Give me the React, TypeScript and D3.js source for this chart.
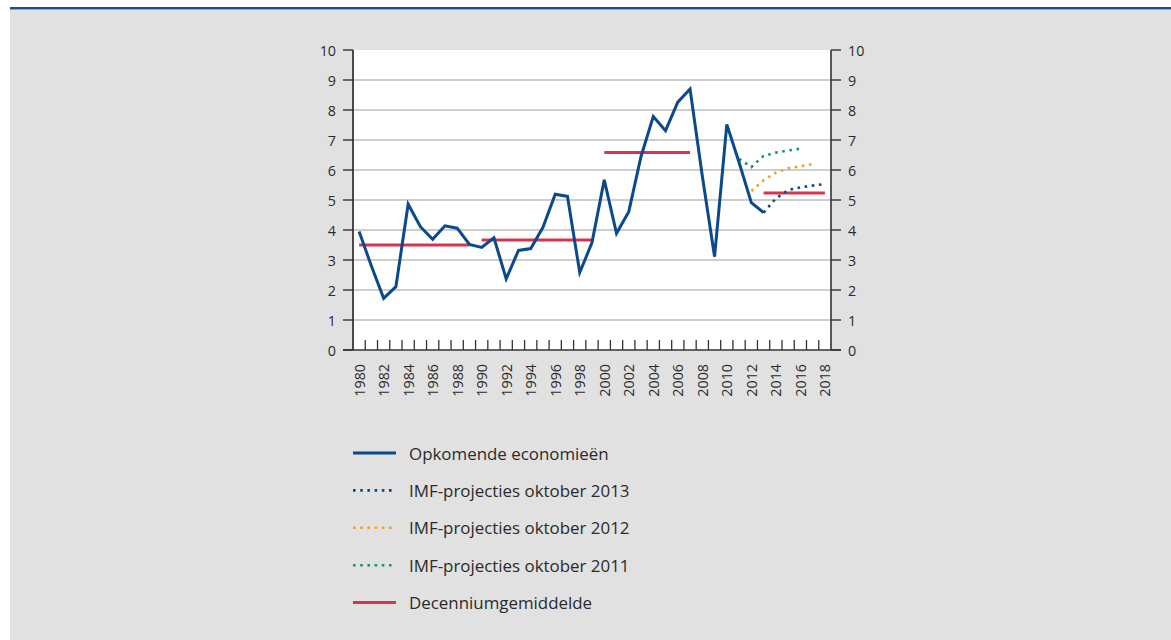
import React from "react";
import * as d3 from "d3";

const years = d3.range(1980, 2019);
const yTicks = [0, 1, 2, 3, 4, 5, 6, 7, 8, 9, 10];

// Opkomende economieën, 1980-2013
const actualYears = d3.range(1980, 2014);
const actual = [
  3.95, 2.8, 1.72, 2.11, 4.86, 4.11, 3.69, 4.14, 4.06, 3.52,
  3.42, 3.74, 2.37, 3.32, 3.38, 4.09, 5.19, 5.12, 2.58, 3.58,
  5.67, 3.89, 4.61, 6.45, 7.78, 7.31, 8.26, 8.7, 5.8, 3.11,
  7.52, 6.25, 4.91, 4.58,
];

const imf2013Years = [2013, 2014, 2015, 2016, 2017, 2018];
const imf2013 = [4.58, 5.05, 5.33, 5.42, 5.48, 5.53];

const imf2012Years = [2012, 2013, 2014, 2015, 2016, 2017];
const imf2012 = [5.3, 5.66, 5.91, 6.06, 6.12, 6.2];

const imf2011Years = [2011, 2012, 2013, 2014, 2015, 2016];
const imf2011 = [6.37, 6.1, 6.47, 6.58, 6.65, 6.71];

// decade averages: [from, to, value]
const decadeAvg: [number, number, number][] = [
  [1980, 1989, 3.5],
  [1990, 1999, 3.67],
  [2000, 2007, 6.58],
  [2013, 2018, 5.23],
];

const legendLabels = [
  "Opkomende economieën",
  "IMF-projecties oktober 2013",
  "IMF-projecties oktober 2012",
  "IMF-projecties oktober 2011",
  "Decenniumgemiddelde",
];

const BLUE = "#0a4a8c";
const RED = "#d9344f";
const ORANGE = "#f5a01a";
const GREEN = "#119678";
const FONT = "'Open Sans', 'Noto Sans', sans-serif";

const W = 1171;
const H = 640;
const margin = { left: 353, right: 831, top: 50, bottom: 350 };

export default function App() {
  const x = d3
    .scaleBand<number>()
    .domain(years)
    .range([margin.left, margin.right]);
  const cx = (yr: number) => (x(yr) as number) + x.bandwidth() / 2;
  const y = d3.scaleLinear().domain([0, 10]).range([margin.bottom, margin.top]);

  const line = (xs: number[], vs: number[]) =>
    d3
      .line<number>()
      .x((_, i) => cx(xs[i]))
      .y((v) => y(v))(vs) as string;

  const dotted = { strokeWidth: 2.6, strokeDasharray: "2.6 4.6" };

  const legendStyles = [
    { stroke: BLUE, dash: undefined, w: 3 },
    { stroke: BLUE, dash: "2.6 4.6", w: 2.6 },
    { stroke: ORANGE, dash: "2.6 4.6", w: 2.6 },
    { stroke: GREEN, dash: "2.6 4.6", w: 2.6 },
    { stroke: RED, dash: undefined, w: 3 },
  ];

  return (
    <svg
      width={W}
      height={H}
      style={{ position: "absolute", left: 0, top: 0, fontFamily: FONT }}
    >
      <rect x={0} y={0} width={W} height={H} fill="#ffffff" />
      <rect x={10} y={9} width={W - 10} height={H - 9} fill="#e1e1e1" />
      <rect x={10} y={7} width={W - 10} height={2.4} fill="#1d4f8f" />

      {/* plot area */}
      <rect
        x={margin.left}
        y={margin.top}
        width={margin.right - margin.left}
        height={margin.bottom - margin.top}
        fill="#ffffff"
      />
      {yTicks.slice(1, -1).map((t) => (
        <line
          key={"g" + t}
          x1={margin.left}
          x2={margin.right}
          y1={y(t)}
          y2={y(t)}
          stroke="#bcbcbc"
          strokeWidth={1.4}
        />
      ))}

      {/* y axes */}
      {yTicks.map((t) => (
        <g key={"yt" + t} fontSize={14.3} fill="#2a2a2a">
          <line x1={margin.left - 10} x2={margin.left} y1={y(t)} y2={y(t)} stroke="#333" strokeWidth={1.4} />
          <line x1={margin.right} x2={margin.right + 10} y1={y(t)} y2={y(t)} stroke="#333" strokeWidth={1.4} />
          <text x={margin.left - 17} y={y(t)} textAnchor="end" dominantBaseline="central">
            {t}
          </text>
          <text x={margin.right + 17} y={y(t)} textAnchor="start" dominantBaseline="central">
            {t}
          </text>
        </g>
      ))}
      <line x1={margin.left} x2={margin.left} y1={margin.top} y2={margin.bottom} stroke="#222" strokeWidth={1.6} />
      <line x1={margin.right} x2={margin.right} y1={margin.top} y2={margin.bottom} stroke="#333" strokeWidth={1.6} />

      {/* x axis: inner ticks at band edges */}
      {years.slice(1).map((yr) => (
        <line
          key={"xt" + yr}
          x1={x(yr)}
          x2={x(yr)}
          y1={margin.bottom - 10}
          y2={margin.bottom}
          stroke="#333"
          strokeWidth={1.3}
        />
      ))}
      {years
        .filter((yr) => yr % 2 === 0)
        .map((yr) => (
          <text
            key={"xl" + yr}
            transform={`translate(${cx(yr)},${margin.bottom + 14}) rotate(-90)`}
            textAnchor="end"
            dominantBaseline="central"
            fontSize={14.3}
            fill="#2a2a2a"
          >
            {yr}
          </text>
        ))}

      {/* decade averages */}
      {decadeAvg.map(([a, b, v]) => (
        <line
          key={"d" + a}
          x1={cx(a)}
          x2={cx(b)}
          y1={y(v)}
          y2={y(v)}
          stroke={RED}
          strokeWidth={3}
        />
      ))}

      {/* projections */}
      <path d={line(imf2011Years, imf2011)} fill="none" stroke={GREEN} {...dotted} />
      <path d={line(imf2012Years, imf2012)} fill="none" stroke={ORANGE} {...dotted} />
      <path d={line(imf2013Years, imf2013)} fill="none" stroke={BLUE} {...dotted} />

      {/* actual */}
      <path
        d={line(actualYears, actual)}
        fill="none"
        stroke={BLUE}
        strokeWidth={3}
        strokeLinejoin="miter"
      />

      {/* bottom axis line */}
      <line x1={margin.left - 10} x2={margin.right + 10} y1={margin.bottom} y2={margin.bottom} stroke="#333" strokeWidth={1.6} />

      {/* legend */}
      {legendLabels.map((lab, i) => {
        const ly = 453 + i * 37.4;
        const s = legendStyles[i];
        return (
          <g key={"lg" + i}>
            <line
              x1={353}
              x2={396}
              y1={ly}
              y2={ly}
              stroke={s.stroke}
              strokeWidth={s.w}
              strokeDasharray={s.dash}
            />
            <text x={409} y={ly} dominantBaseline="central" fontSize={16.9} fill="#2a2a2a">
              {lab}
            </text>
          </g>
        );
      })}
    </svg>
  );
}
